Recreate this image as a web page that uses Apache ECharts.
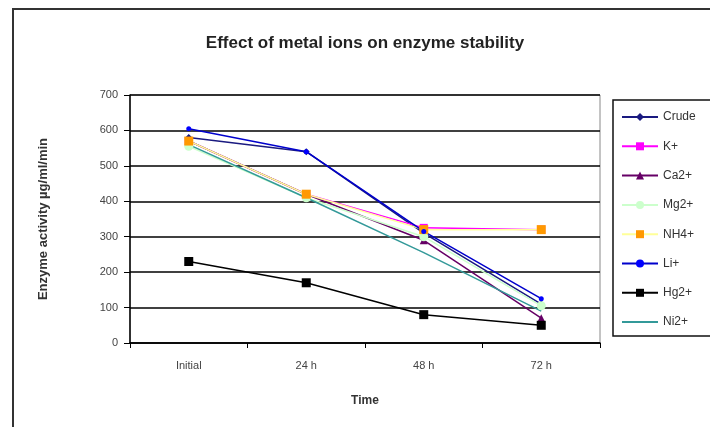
<!DOCTYPE html>
<html>
<head>
<meta charset="utf-8">
<script src="https://cdn.jsdelivr.net/npm/echarts/dist/echarts.min.js"></script>
<style>
  html, body { margin: 0; padding: 0; background: #fff; }
  #chart { width: 710px; height: 427px; }
</style>
</head>
<body>
<div id="chart"></div>
<script>
// time points
const timePoints = ['Initial', '24 h', '48 h', '72 h']

// enzyme activity, µg/ml/min
const crude = [580, 540, 310, 110]
const kIon = [570, 420, 325, 320]
const caIon = [570, 420, 290, 70]
const mgIon = [555, 410, 300, 105]
const nh4Ion = [570, 420, 320, 320]
const liIon = [605, 540, 315, 125]
const hgIon = [230, 170, 80, 50]
const niIon = [560, 410, 255, 90]

const chart = echarts.init(document.getElementById('chart'))

const mk = (name, data, color, lineColor, symbol, size) => ({
  name,
  type: 'line',
  data,
  symbol,
  symbolSize: size,
  showSymbol: symbol !== 'none',
  lineStyle: { color: lineColor, width: 1.5 },
  itemStyle: { color },
  emphasis: { disabled: true }
})

chart.setOption({
  animation: false,
  textStyle: { fontFamily: 'Liberation Sans, Arial, sans-serif' },
  title: {
    text: 'Effect of metal ions on enzyme stability',
    left: 360, textAlign: 'center',
    top: 30,
    textStyle: { fontSize: 17, fontWeight: 'bold', color: '#222' }
  },
  graphic: [{
    type: 'rect',
    shape: { x: 13, y: 9, width: 800, height: 500 },
    style: { fill: 'none', stroke: '#333', lineWidth: 2 },
    z: -1
  }],
  legend: {
    orient: 'vertical',
    left: 613, top: 100,
    padding: [11, 60, 8, 8],
    itemGap: 17.3,
    itemWidth: 36, itemHeight: 10,
    borderColor: '#111', borderWidth: 1.5,
    textStyle: { fontSize: 12, color: '#333' },
    data: ['Crude', 'K+', 'Ca2+', 'Mg2+', 'NH4+', 'Li+', 'Hg2+',
      { name: 'Ni2+', itemStyle: { opacity: 0 } }]
  },
  grid: {
    left: 130, right: 110, top: 95, bottom: 84,
    show: true, borderColor: '#888', borderWidth: 1
  },
  xAxis: {
    type: 'category',
    data: timePoints,
    boundaryGap: true,
    name: 'Time',
    nameLocation: 'middle',
    nameGap: 52,
    nameTextStyle: { fontSize: 12, fontWeight: 'bold', color: '#333' },
    axisLine: { lineStyle: { color: '#000', width: 1.5 } },
    axisTick: { show: true, length: 5, lineStyle: { color: '#000' } },
    axisLabel: { margin: 17, fontSize: 11, color: '#444' },
    splitLine: { show: false }
  },
  yAxis: {
    type: 'value',
    min: 0, max: 700, interval: 100,
    name: 'Enzyme activity µg/ml/min',
    nameLocation: 'middle',
    nameGap: 80,
    nameTextStyle: { fontSize: 13, fontWeight: 'bold', color: '#333' },
    axisLine: { show: true, lineStyle: { color: '#000', width: 1.5 } },
    axisTick: { show: true, length: 6, lineStyle: { color: '#000' } },
    axisLabel: { margin: 12, fontSize: 11, color: '#444' },
    splitLine: { show: true, lineStyle: { color: '#000', width: 1.5 } }
  },
  series: [
    mk('Crude', crude, '#1a1a80', '#1a1a80', 'diamond', 7),
    mk('K+', kIon, '#ff00ff', '#ff00ff', 'rect', 8),
    mk('Ca2+', caIon, '#660066', '#660066', 'triangle', 8),
    mk('Mg2+', mgIon, '#ccffcc', '#ccffcc', 'circle', 9),
    mk('NH4+', nh4Ion, '#ff9900', '#ffff99', 'rect', 9),
    mk('Li+', liIon, '#0000ff', '#0000cc', 'circle', 5),
    mk('Hg2+', hgIon, '#000', '#000', 'rect', 9),
    mk('Ni2+', niIon, '#339999', '#339999', 'none', 0)
  ]
})
</script>
</body>
</html>
